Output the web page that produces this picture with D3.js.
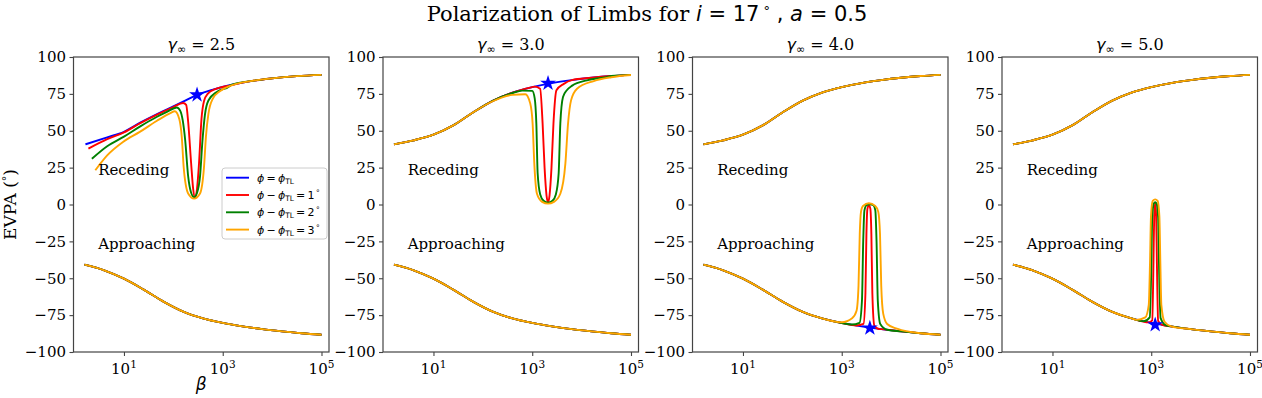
<!DOCTYPE html>
<html>
<head>
<meta charset="utf-8">
<script src="https://cdn.jsdelivr.net/npm/d3@7"></script>
<style>
  body { margin: 0; background: #fff; }
  text { font-family: "DejaVu Serif", serif; fill: #000; }
  .m { font-family: "DejaVu Sans", sans-serif; }
</style>
</head>
<body>
<svg id="chart" width="1262" height="398"></svg>
<script>
// panel titles, legend, ticks
var gammas = ["2.5", "3.0", "4.0", "5.0"];
var phiOffsets = [null, "1", "2", "3"];
var lineColors = ["#0000ff", "#ff0000", "#008000", "#ffa500"];
var yTicks = [-100, -75, -50, -25, 0, 25, 50, 75, 100];
var xTickExp = [1, 3, 5];

// all curve points are [log10(beta), EVPA in deg]
var baseLogBeta = [0.2, 0.6, 1.0, 1.4, 1.8, 2.2, 2.6, 3.0, 3.4, 3.8, 4.2, 4.6, 5.0];
var recedingBase = [40.8, 43.5, 47.3, 53.6, 62.4, 70.3, 75.9, 79.6, 82.3, 84.3, 85.9, 87.1, 87.9];
var approachingBase = [-40.8, -44.6, -50.3, -57.7, -65.8, -72.6, -77.2, -80.3, -82.6, -84.5, -86.0, -87.3, -88.3];

// gamma = 2.5, receding branch
var g25Blue = [[0.22, 40.8], [0.66, 45.5], [1.0, 49.3], [1.33, 55.5], [1.67, 61.3], [2.0, 66.5], [2.25, 70.6],
  [2.48, 74.3], [2.8, 77.9], [3.16, 81.0], [3.6, 83.8], [4.0, 85.5], [4.5, 87.0], [5.0, 87.9]];
var g25Red = [[0.28, 37.9], [0.66, 44.3], [1.0, 48.9], [1.33, 55.2], [1.67, 61.0], [2.0, 66.1], [2.2, 68.8],
  [2.26, 67.5], [2.3, 56], [2.36, 28], [2.4, 11], [2.44, 4.5], [2.48, 11], [2.52, 28], [2.57, 58], [2.62, 70],
  [2.7, 75.2], [2.85, 78.2], [3.16, 80.8]];
var g25Green = [[0.35, 31], [0.66, 39.5], [1.0, 46], [1.33, 53], [1.67, 59.5], [1.87, 62.8], [2.07, 65.8],
  [2.14, 63.5], [2.19, 57], [2.24, 43.5], [2.3, 19], [2.36, 8], [2.42, 5], [2.48, 8], [2.54, 19], [2.59, 43.5],
  [2.64, 61], [2.71, 70.5], [2.88, 76.3], [3.15, 80.5]];
var g25Orange = [[0.42, 23.2], [0.66, 33.3], [0.98, 42.4], [1.32, 49.2], [1.66, 56.6], [1.94, 62], [2.03, 63.2],
  [2.12, 58], [2.17, 46], [2.21, 25], [2.3, 7.5], [2.42, 4], [2.54, 7.5], [2.62, 25], [2.66, 46], [2.71, 61.5],
  [2.8, 71.8], [2.95, 77], [3.18, 80.8]];

// gamma = 3.0, receding dip
var g30Red = [[3.05, 79.9], [3.16, 78.5], [3.21, 55], [3.25, 25], [3.29, 6], [3.32, 1.2], [3.35, 6], [3.39, 25],
  [3.43, 55], [3.49, 77.4], [3.64, 81.8]];
var g30Green = [[2.6, 75.6], [2.8, 77.2], [3.0, 77.0], [3.05, 72], [3.083, 55], [3.11, 21], [3.16, 7], [3.23, 2.5],
  [3.32, 1.2], [3.41, 2.5], [3.48, 7], [3.535, 21], [3.569, 55], [3.623, 72.9], [3.7, 77.5], [3.81, 80.6],
  [4.11, 84.2], [4.5, 86.4]];
var g30Orange = [[2.2, 70.0], [2.6, 74.3], [2.86, 74.7], [2.96, 68.4], [3.008, 54.8], [3.042, 27.7], [3.096, 7.3],
  [3.2, 1.8], [3.32, 0.6], [3.44, 1.8], [3.569, 7.3], [3.671, 27.7], [3.725, 54.8], [3.786, 70.6], [3.907, 78.5],
  [4.245, 83.7], [4.6, 86.3], [5.0, 87.8]];

// gamma = 4.0, approaching bump
var g40Red = [[3.3, -82], [3.44, -81], [3.48, -60], [3.5, -20], [3.52, -3], [3.55, -0.3], [3.58, -3], [3.6, -20],
  [3.62, -60], [3.66, -82], [3.75, -84.4]];
var g40Green = [[3.2, -81.4], [3.36, -80.2], [3.41, -65], [3.435, -25], [3.46, -4], [3.5, -0.5], [3.57, 0.2],
  [3.64, -0.5], [3.68, -4], [3.705, -25], [3.73, -65], [3.78, -81], [3.92, -84.9]];
var g40Orange = [[3.0, -79.8], [3.21, -77.1], [3.3, -72], [3.34, -55], [3.365, -20], [3.39, -5], [3.43, -1],
  [3.55, 0.8], [3.68, -1], [3.74, -5], [3.775, -20], [3.8, -55], [3.84, -74], [3.92, -81], [4.1, -84],
  [4.4, -86.4]];

// gamma = 5.0, approaching bump
var g50Red = [[2.95, -79.9], [3.02, -78.5], [3.045, -40], [3.06, -8], [3.08, 0.8], [3.1, -8], [3.115, -40],
  [3.14, -79], [3.22, -81.6]];
var g50Green = [[2.85, -79.1], [2.97, -76.5], [3.0, -45], [3.02, -9], [3.05, 0.5], [3.08, 1.5], [3.11, 0.5],
  [3.14, -9], [3.16, -45], [3.19, -77], [3.3, -82]];
var g50Orange = [[2.7, -78.2], [2.88, -76.5], [2.95, -68], [2.975, -40], [2.995, -8], [3.03, 2.5], [3.08, 3.5],
  [3.13, 2.5], [3.165, -8], [3.185, -40], [3.205, -68], [3.27, -79.5], [3.4, -82.6]];

// phi = phi_TL star marker, one per panel
var starLogBeta = [2.48, 3.32, 3.57, 3.08];
var starEVPA = [74.3, 82.2, -83.8, -81.5];

// where the "Receding" / "Approaching" words sit (beta, EVPA)
var labelBeta = 3;
var labelEVPA = [20, -30];

var features = [
  [g25Red, g25Green, g25Orange],
  [g30Red, g30Green, g30Orange],
  [g40Red, g40Green, g40Orange],
  [g50Red, g50Green, g50Orange]
];
var featureBranch = ["rec", "rec", "app", "app"];

var svg = d3.select("#chart");
var left0 = 73.5, step = 309.5, pw = 255.5, plotTop = 57, ph = 295;

var x = d3.scaleLog().domain([Math.pow(10, -0.022), Math.pow(10, 5.152)]).range([0, pw]);
var y = d3.scaleLinear().domain([-100, 100]).range([ph, 0]);

var line = d3.line()
  .x(function (p) { return x(Math.pow(10, p[0])); })
  .y(function (p) { return y(p[1]); })
  .curve(d3.curveMonotoneX);

function toPairs(vals) {
  return baseLogBeta.map(function (b, i) { return [b, vals[i]]; });
}

// colored curve = base outside the feature, feature points inside it
function splice(base, feat, fromStart) {
  var lo = feat[0][0], hi = feat[feat.length - 1][0];
  var head = fromStart ? [] : base.filter(function (p) { return p[0] < lo; });
  return head.concat(feat, base.filter(function (p) { return p[0] > hi; }));
}

function minus(v) {
  return v < 0 ? "\u2212" + Math.abs(v) : "" + v;
}

// title
var title = svg.append("text").attr("x", 647).attr("y", 21)
  .attr("text-anchor", "middle").style("font-size", "21px");
title.append("tspan").text("Polarization of Limbs for ");
title.append("tspan").attr("class", "m").style("font-style", "italic").text("i");
title.append("tspan").attr("class", "m").text(" = 17");
title.append("tspan").attr("class", "m").attr("dy", -6).style("font-size", "13px").text(" \u00b0");
title.append("tspan").attr("class", "m").attr("dy", 6).text(" , ");
title.append("tspan").attr("class", "m").style("font-style", "italic").text("a");
title.append("tspan").attr("class", "m").text(" = 0.5");

gammas.forEach(function (gam, i) {
  var g = svg.append("g").attr("transform", "translate(" + (left0 + i * step) + "," + plotTop + ")");

  var recBase = i === 0 ? g25Blue : toPairs(recedingBase);
  var appBase = toPairs(approachingBase);

  var curves = [];
  lineColors.forEach(function (c, k) {
    var rec = recBase, app = appBase;
    if (k > 0) {
      var f = features[i][k - 1];
      if (featureBranch[i] === "rec") rec = splice(recBase, f, i === 0);
      else app = splice(appBase, f, false);
    }
    curves.push({ color: c, pts: rec });
    curves.push({ color: c, pts: app });
  });

  g.selectAll("path.curve").data(curves).enter().append("path")
    .attr("class", "curve")
    .attr("d", function (d) { return line(d.pts); })
    .attr("fill", "none")
    .attr("stroke", function (d) { return d.color; })
    .attr("stroke-width", 1.9);

  // branch labels
  g.selectAll("text.branch").data(["Receding", "Approaching"]).enter().append("text")
    .attr("class", "branch")
    .attr("x", x(labelBeta))
    .attr("y", function (d, j) { return y(labelEVPA[j]); })
    .style("font-size", "15px")
    .text(function (d) { return d; });

  // star
  g.append("path")
    .attr("d", d3.symbol(d3.symbolStar, 78)())
    .attr("transform", "translate(" + x(Math.pow(10, starLogBeta[i])) + "," + y(starEVPA[i]) + ")")
    .attr("fill", "#0000ff");

  // axes
  var ya = g.append("g").call(d3.axisLeft(y).tickValues(yTicks).tickSize(4).tickPadding(3.5).tickFormat(minus));
  ya.select(".domain").remove();
  ya.selectAll("line").attr("stroke", "#444").attr("stroke-width", 1.1);
  ya.selectAll("text").style("font-size", "15px").style("font-family", "DejaVu Serif").attr("fill", "#000");

  var xa = g.append("g").attr("transform", "translate(0," + ph + ")")
    .call(d3.axisBottom(x).tickValues(xTickExp.map(function (e) { return Math.pow(10, e); }))
      .tickSize(4).tickFormat(""));
  xa.select(".domain").remove();
  xa.selectAll("line").attr("stroke", "#444").attr("stroke-width", 1.1);
  xTickExp.forEach(function (e) {
    var t = g.append("text").attr("x", x(Math.pow(10, e))).attr("y", ph + 22)
      .attr("text-anchor", "middle").style("font-size", "15px");
    t.append("tspan").text("10");
    t.append("tspan").attr("dy", -6).style("font-size", "10.5px").text(e);
  });

  g.append("rect").attr("width", pw).attr("height", ph)
    .attr("fill", "none").attr("stroke", "#444").attr("stroke-width", 1.2);

  // panel title
  var st = g.append("text").attr("x", pw / 2).attr("y", -7)
    .attr("text-anchor", "middle").style("font-size", "16px");
  st.append("tspan").attr("class", "m").style("font-style", "italic").text("\u03b3");
  st.append("tspan").attr("class", "m").attr("dy", 3).style("font-size", "11px").text("\u221e");
  st.append("tspan").attr("dy", -3).text(" = " + gam);

  if (i === 0) {
    var lg = g.append("g").attr("transform", "translate(148.5,111)");
    lg.append("rect").attr("width", 105).attr("height", 71).attr("rx", 3)
      .attr("fill", "#fff").attr("fill-opacity", 0.85).attr("stroke", "#ccc");
    lineColors.forEach(function (c, k) {
      var yy = 9.7 + k * 17.3;
      lg.append("line").attr("x1", 4).attr("x2", 27).attr("y1", yy).attr("y2", yy)
        .attr("stroke", c).attr("stroke-width", 1.9);
      var t = lg.append("text").attr("class", "m").attr("x", 35).attr("y", yy + 4).style("font-size", "11px");
      t.append("tspan").style("font-style", "italic").text("\u03d5");
      t.append("tspan").text(k === 0 ? "\u2009=\u2009" : "\u2009\u2212\u2009");
      t.append("tspan").style("font-style", "italic").text("\u03d5");
      t.append("tspan").attr("dy", 2).style("font-size", "7.5px").text("TL");
      if (k > 0) {
        t.append("tspan").attr("dy", -2).text("\u2009=\u2009" + phiOffsets[k]);
        t.append("tspan").attr("dy", -4).style("font-size", "7.5px").text("\u2009\u00b0");
      }
    });
  }
});

// axis titles
var yl = svg.append("text").attr("transform", "translate(16,204.5) rotate(-90)")
  .attr("text-anchor", "middle").style("font-size", "17px");
yl.append("tspan").text("EVPA (");
yl.append("tspan").attr("class", "m").attr("dy", -6).style("font-size", "11px").text("\u00b0");
yl.append("tspan").attr("dy", 6).text(")");

svg.append("text").attr("class", "m").attr("x", left0 + pw / 2).attr("y", 390)
  .attr("text-anchor", "middle").style("font-size", "17px").style("font-style", "italic").text("\u03b2");
</script>
</body>
</html>
